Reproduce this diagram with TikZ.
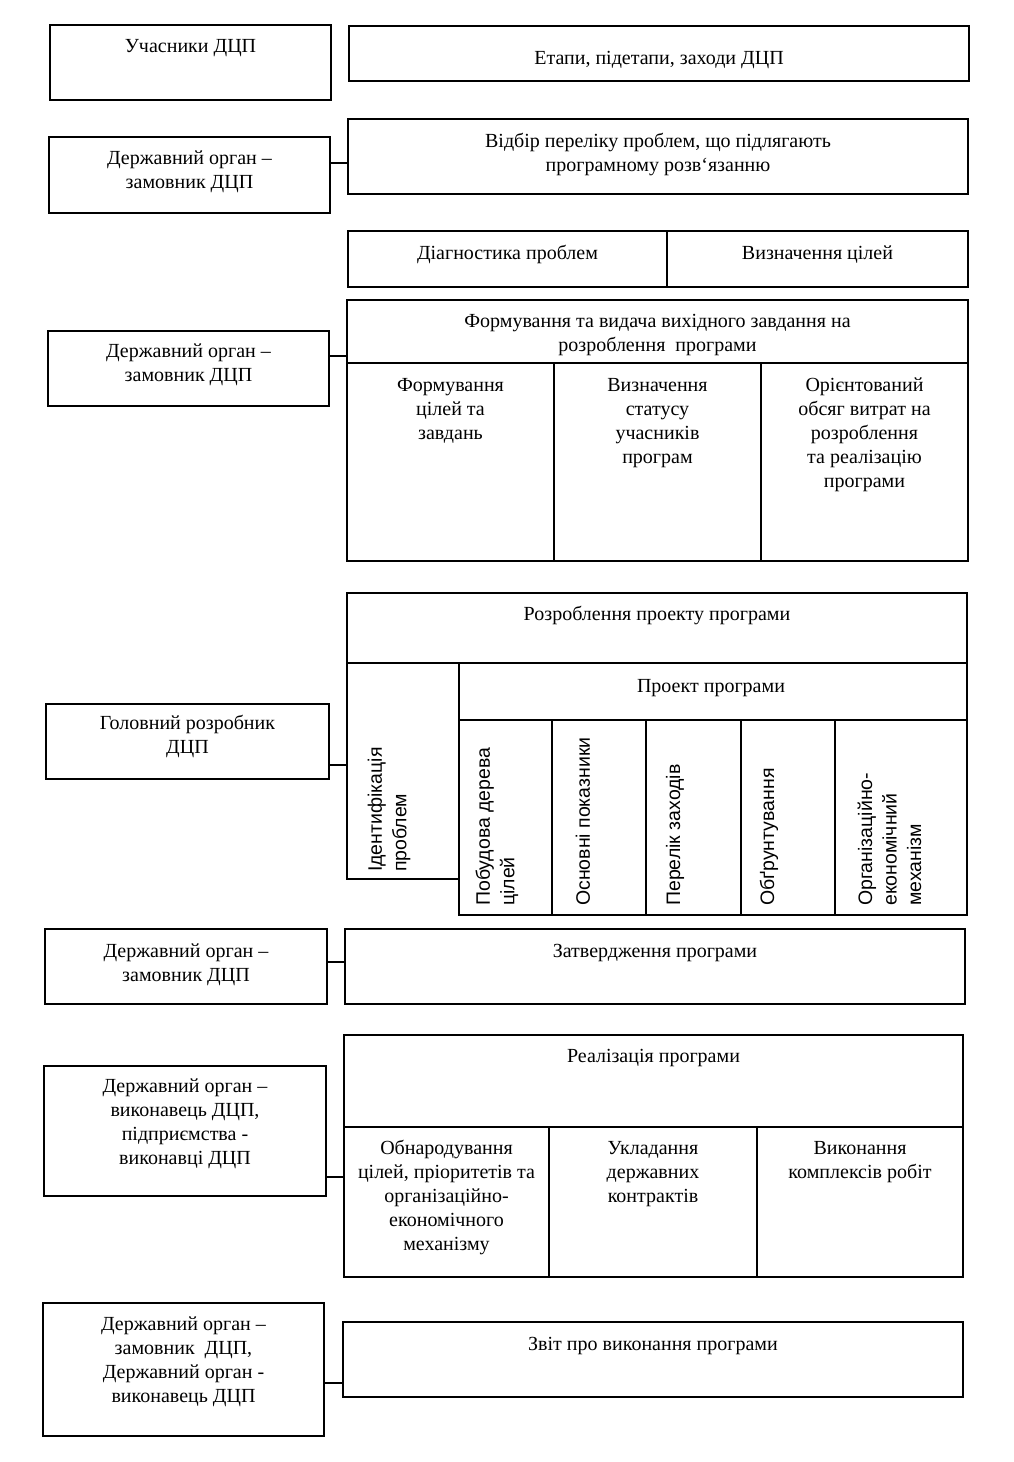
\documentclass[tikz,border=0pt]{standalone}
\usepackage{fontspec}
\setmainfont{Liberation Serif}
\newfontfamily\vsans{Liberation Sans}
\newcommand\mybox[5]{\node[box, minimum width={#4-#2}, minimum height={#5-#3}] (#1) at (#2,#3) {};}
\begin{document}
\begin{tikzpicture}[x=1pt,y=-1pt,
  box/.style={draw, line width=2pt, inner sep=0pt, outer sep=0pt, anchor=north west},
  conn/.style={line width=2.6pt},
  txt/.style={inner sep=0pt, align=center, font=\fontsize{20}{24}\selectfont, anchor=base},
  vtxt/.style={inner sep=0pt, align=left, font=\vsans\fontsize{19.5}{24.5}\selectfont, rotate=90, anchor=west}]
\useasboundingbox (0,0) rectangle (1014,1462);
% boxes
\mybox{l1}{50}{25}{331}{100}
\mybox{r1}{349}{26}{969}{81}
\mybox{l2}{49}{137}{330}{213}
\mybox{r2}{348}{119}{968}{194}
\mybox{d1}{348}{231}{667}{287}
\mybox{d2}{667}{231}{968}{287}
\mybox{l3}{48}{331}{329}{406}
\mybox{f0}{347}{300}{968}{363}
\mybox{f1}{347}{363}{554}{561}
\mybox{f2}{554}{363}{761}{561}
\mybox{f3}{761}{363}{968}{561}
\mybox{r5}{347}{593}{967}{663}
\mybox{id}{347}{663}{459}{879}
\mybox{pp}{459}{663}{967}{720}
\mybox{c1}{459}{720}{552}{915}
\mybox{c2}{552}{720}{646}{915}
\mybox{c3}{646}{720}{741}{915}
\mybox{c4}{741}{720}{835}{915}
\mybox{c5}{835}{720}{967}{915}
\mybox{l4}{46}{704}{329}{779}
\mybox{l5}{45}{929}{327}{1004}
\mybox{r6}{345}{929}{965}{1004}
\mybox{l6}{44}{1066}{326}{1196}
\mybox{g0}{344}{1035}{963}{1127}
\mybox{g1}{344}{1127}{549}{1277}
\mybox{g2}{549}{1127}{757}{1277}
\mybox{g3}{757}{1127}{963}{1277}
\mybox{l7}{43}{1303}{324}{1436}
\mybox{r7}{343}{1322}{963}{1397}
% connectors
\draw[conn] (l2.east |- 0,163) -- (r2.west |- 0,163);
\draw[conn] (l3.east |- 0,356) -- (f0.west |- 0,356);
\draw[conn] (l4.east |- 0,765) -- (id.west |- 0,765);
\draw[conn] (l5.east |- 0,962) -- (r6.west |- 0,962);
\draw[conn] (l6.east |- 0,1177) -- (g1.west |- 0,1177);
\draw[conn] (l7.east |- 0,1383) -- (r7.west |- 0,1383);
% texts (anchor = baseline of the last line)
\node[txt] (tl1) at (190.5,52) {Учасники ДЦП};
\node[txt] (tr1) at (659,64) {Етапи, підетапи, заходи ДЦП};
\node[txt] (tl2) at (189.5,188) {Державний орган –\\замовник ДЦП};
\node[txt] (tr2) at (658,171) {Відбір переліку проблем, що підлягають\\програмному розв`язанню};
\node[txt] (td1) at (507.5,259) {Діагностика проблем};
\node[txt] (td2) at (817.5,259) {Визначення цілей};
\node[txt] (tl3) at (188.5,381) {Державний орган –\\замовник ДЦП};
\node[txt] (tf0) at (657.5,351) {Формування та видача вихідного завдання на\\розроблення~~програми};
\node[txt] (tf1) at (450.5,439) {Формування\\цілей та\\завдань};
\node[txt] (tf2) at (657.5,463) {Визначення\\статусу\\учасників\\програм};
\node[txt] (tf3) at (864.5,487) {Орієнтований\\обсяг витрат на\\розроблення\\та реалізацію\\програми};
\node[txt] (tr5) at (657,620) {Розроблення проекту програми};
\node[txt] (tpp) at (711,692) {Проект програми};
\node[txt] (tl4) at (187.5,753) {Головний розробник\\ДЦП};
\node[vtxt] (tid) at (389,872) {Ідентифікація\\проблем};
\node[vtxt] (tc1) at (497,906) {Побудова дерева\\цілей};
\node[vtxt] (tc2) at (583,906) {Основні показники};
\node[vtxt] (tc3) at (675,906) {Перелік заходів};
\node[vtxt] (tc4) at (769,906) {Обґрунтування};
\node[vtxt] (tc5) at (889.5,906) {Організаційно-\\економічний\\механізм};
\node[txt] (tl5) at (186,981) {Державний орган –\\замовник ДЦП};
\node[txt] (tr6) at (655,957) {Затвердження програми};
\node[txt] (tl6) at (185,1164) {Державний орган –\\виконавець ДЦП,\\підприємства -\\виконавці ДЦП};
\node[txt] (tg0) at (653.5,1062) {Реалізація програми};
\node[txt] (tg1) at (446.5,1250) {Обнародування\\цілей, пріоритетів та\\організаційно-\\економічного\\механізму};
\node[txt] (tg2) at (653,1202) {Укладання\\державних\\контрактів};
\node[txt] (tg3) at (860,1178) {Виконання\\комплексів робіт};
\node[txt] (tl7) at (183.5,1402) {Державний орган –\\замовник~~ДЦП,\\Державний орган -\\виконавець ДЦП};
\node[txt] (tr7) at (653,1350) {Звіт про виконання програми};
\end{tikzpicture}
\end{document}
